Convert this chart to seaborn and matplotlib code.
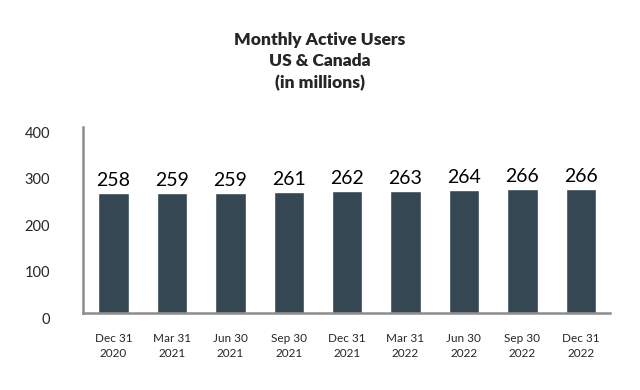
import matplotlib
matplotlib.use("Agg")
import matplotlib.pyplot as plt
import matplotlib.transforms as mtransforms
import pandas as pd
import seaborn as sns

quarters = ["Dec 31\n2020", "Mar 31\n2021", "Jun 30\n2021", "Sep 30\n2021", "Dec 31\n2021",
            "Mar 31\n2022", "Jun 30\n2022", "Sep 30\n2022", "Dec 31\n2022"]
users = [258, 259, 259, 261, 262, 263, 264, 266, 266]

df = pd.DataFrame({"Quarter": quarters, "Users": users})

sns.set_style("white")
plt.rcParams["font.family"] = ["Lato", "DejaVu Sans"]

fig = plt.figure(figsize=(6.4, 3.9), dpi=100)
ax = fig.add_axes([0.130, 0.197, 0.823, 0.477])

sns.barplot(data=df, x="Quarter", y="Users", color="#344753", width=0.52,
            saturation=1, ax=ax)
ax.bar_label(ax.containers[0], fontsize=14, padding=3, color="black")

ax.set_ylim(0, 400)
ax.set_yticks([0, 100, 200, 300, 400])
ax.set_xlim(-0.52, 8.5)
ax.set_xlabel("")
ax.set_ylabel("")

for side in ["top", "right"]:
    ax.spines[side].set_visible(False)
for side in ["left", "bottom"]:
    ax.spines[side].set_color("#8c8c8c")
    ax.spines[side].set_linewidth(1.8)

ax.tick_params(axis="y", length=0, pad=24, labelsize=10.5)
ax.tick_params(axis="x", length=0, pad=14, labelsize=8.5)
for lab in ax.get_xticklabels():
    lab.set_linespacing(1.45)

offset = mtransforms.ScaledTranslation(0, -5 / 100, fig.dpi_scale_trans)
for lab in ax.get_yticklabels():
    lab.set_transform(lab.get_transform() + offset)

fig.text(0.5, 0.843, "Monthly Active Users\nUS & Canada\n(in millions)",
         ha="center", va="center", fontsize=12.5, fontweight="heavy",
         linespacing=1.4)

fig.savefig("out.png", dpi=100)
